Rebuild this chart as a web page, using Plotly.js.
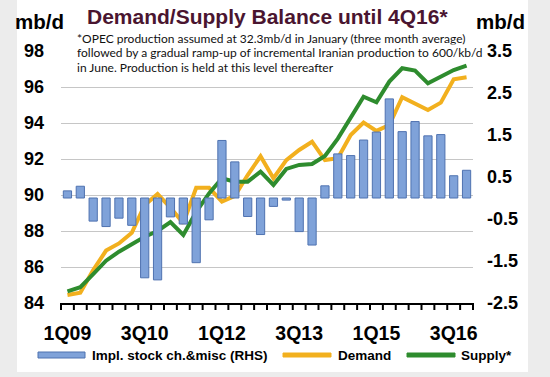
<!DOCTYPE html>
<html><head><meta charset="utf-8">
<script src="https://cdn.plot.ly/plotly-3.0.1.min.js"></script>
<style>html,body{margin:0;padding:0;background:#ececec;}#chart{width:550px;height:377px;}</style>
</head><body><div id="chart"></div>
<script>
const quarters = ['1Q09','2Q09','3Q09','4Q09','1Q10','2Q10','3Q10','4Q10',
  '1Q11','2Q11','3Q11','4Q11','1Q12','2Q12','3Q12','4Q12',
  '1Q13','2Q13','3Q13','4Q13','1Q14','2Q14','3Q14','4Q14',
  '1Q15','2Q15','3Q15','4Q15','1Q16','2Q16','3Q16','4Q16'];
const tickLabels = ['1Q09','3Q10','1Q12','3Q13','1Q15','3Q16'];
const stockChange = [0.17, 0.28, -0.55, -0.68, -0.48, -0.65, -1.9, -1.95,
  -0.45, -0.62, -1.54, -0.52, 1.37, 0.86, -0.44, -0.87,
  -0.2, -0.05, -0.8, -1.12, 0.29, 1.05, 1.01, 1.38,
  1.57, 2.36, 1.58, 1.82, 1.48, 1.51, 0.53, 0.66];
const demand = [84.44, 84.57, 85.83, 86.91, 87.31, 87.9, 89.45, 90.05,
  89.3, 88.43, 90.4, 90.4, 89.63, 89.95, 91.11, 92.15,
  90.93, 91.94, 92.5, 92.96, 91.94, 92.04, 93.33, 94.02,
  93.56, 93.89, 95.43, 95.09, 94.72, 95.13, 96.43, 96.54];
const supply = [84.65, 84.88, 85.6, 86.35, 86.85, 87.27, 87.68, 88.0,
  88.5, 87.78, 89.07, 90.09, 90.93, 90.74, 90.74, 91.3,
  90.56, 91.45, 91.67, 91.72, 92.17, 93.13, 94.35, 95.46,
  95.15, 96.3, 97.04, 96.91, 96.2, 96.57, 96.94, 97.19];
const leftTicks = [84, 86, 88, 90, 92, 94, 96, 98];
const rightTicks = [-2.5, -1.5, -0.5, 0.5, 1.5, 2.5, 3.5];
const seriesNames = ['Impl. stock ch.&misc (RHS)', 'Demand', 'Supply*'];
const titleText = 'Demand/Supply Balance until 4Q16*';
const noteLines = ['*OPEC production assumed at 32.3mb/d in January (three month average)',
  'followed by a gradual ramp-up of incremental Iranian production to 600/kb/d',
  'in June. Production is held at this level thereafter'];

const W = 550, H = 377;
const M = {l: 61, r: 77, t: 51, b: 74};
const PW = W - M.l - M.r, PH = H - M.t - M.b;
const px = x => (x - M.l) / PW;
const py = y => (H - M.b - y) / PH;

const xi = quarters.map((q, i) => i);
const xRange = [-0.5, quarters.length - 0.5];
// category boundaries (where the axis tick marks sit), as fractions of the plot width
const boundaryFrac = quarters.map((q, i) => i / quarters.length).concat([1]);

const BLUE = '#7fa2d9', BLUE_LINE = '#4f72b0', ORANGE = '#f2b01e', GREEN = '#2e8c2e';
const FAM = 'Liberation Sans, Arial, sans-serif';
const bold = {family: FAM, size: 18, color: '#000', weight: 'bold'};

const traces = [
  {type: 'bar', x: xi, y: stockChange, yaxis: 'y2', name: seriesNames[0], width: 0.64,
   marker: {color: BLUE, line: {color: BLUE_LINE, width: 1}}},
  {type: 'scatter', mode: 'lines', x: xi, y: demand, name: seriesNames[1],
   line: {color: ORANGE, width: 4}},
  {type: 'scatter', mode: 'lines', x: xi, y: supply, name: seriesNames[2],
   line: {color: GREEN, width: 4}}
];

const legendY = 355;
const legendItems = [
  {x0: 38, x1: 85, h: 6, color: BLUE, line: BLUE_LINE, tx: 90, text: seriesNames[0]},
  {x0: 283, x1: 331, h: 4, color: ORANGE, line: ORANGE, tx: 336, text: seriesNames[1]},
  {x0: 407, x1: 455, h: 4, color: GREEN, line: GREEN, tx: 459, text: seriesNames[2]}
];

const shapes = [
  {type: 'rect', xref: 'paper', yref: 'paper', layer: 'below',
   x0: px(17), x1: px(528), y0: py(372), y1: py(0),
   fillcolor: 'white', line: {width: 0}}
];
boundaryFrac.forEach(f => shapes.push({type: 'line', xref: 'paper', yref: 'paper',
  x0: f, x1: f, y0: 0, y1: -7 / PH, line: {color: '#000', width: 2}}));

const annotations = [
  {xref: 'paper', yref: 'paper', x: px(39), y: py(22), text: 'mb/d', showarrow: false,
   xanchor: 'center', yanchor: 'middle', font: Object.assign({}, bold, {size: 20.5})},
  {xref: 'paper', yref: 'paper', x: px(500), y: py(22), text: 'mb/d', showarrow: false,
   xanchor: 'center', yanchor: 'middle', font: Object.assign({}, bold, {size: 20.5})}
];
const noteY = [39, 53, 67];
noteLines.forEach((t, k) => annotations.push({
  xref: 'paper', yref: 'paper', x: px(76), y: py(noteY[k]), text: t, showarrow: false,
  xanchor: 'left', yanchor: 'middle', bgcolor: k === 1 ? 'white' : 'rgba(0,0,0,0)', borderpad: 0,
  font: {family: 'Lato, Open Sans, sans-serif', size: 12, color: '#111'}
}));
legendItems.forEach(it => {
  shapes.push({type: 'rect', xref: 'paper', yref: 'paper',
    x0: px(it.x0), x1: px(it.x1), y0: py(legendY + it.h / 2), y1: py(legendY - it.h / 2),
    fillcolor: it.color, line: {color: it.line, width: 1}});
  annotations.push({xref: 'paper', yref: 'paper', x: px(it.tx), y: py(legendY), text: it.text,
    showarrow: false, xanchor: 'left', yanchor: 'middle',
    font: Object.assign({}, bold, {size: 13.5})});
});

const layout = {
  width: W, height: H, margin: M,
  paper_bgcolor: '#ececec', plot_bgcolor: 'white',
  showlegend: false,
  title: {text: titleText, xref: 'container', yref: 'container', x: 87 / W, xanchor: 'left',
    y: 1 - 17 / H, yanchor: 'middle',
    font: {family: FAM, size: 21, color: '#4a1530', weight: 'bold'}},
  xaxis: {range: xRange, tickmode: 'array',
    tickvals: tickLabels.map(l => quarters.indexOf(l)), ticktext: tickLabels,
    ticks: '', showgrid: false, zeroline: false, showline: true, linecolor: '#000', linewidth: 2,
    tickfont: Object.assign({}, bold, {size: 19.5}), ticklabelstandoff: 12},
  yaxis: {range: [leftTicks[0], leftTicks[leftTicks.length - 1]], tickmode: 'array',
    tickvals: leftTicks, ticktext: leftTicks.map(String), ticks: '',
    showgrid: true, gridcolor: '#c6c6c6', gridwidth: 1, zeroline: false, showline: false,
    tickfont: bold, ticklabelstandoff: 16},
  yaxis2: {range: [rightTicks[0], rightTicks[rightTicks.length - 1]], overlaying: 'y', side: 'right',
    tickmode: 'array', tickvals: rightTicks, ticktext: rightTicks.map(String), ticks: '',
    showgrid: false, zeroline: false, showline: false, tickfont: bold, ticklabelstandoff: 13},
  shapes: shapes, annotations: annotations
};

Plotly.newPlot('chart', traces, layout, {displayModeBar: false, staticPlot: true});
</script></body></html>
